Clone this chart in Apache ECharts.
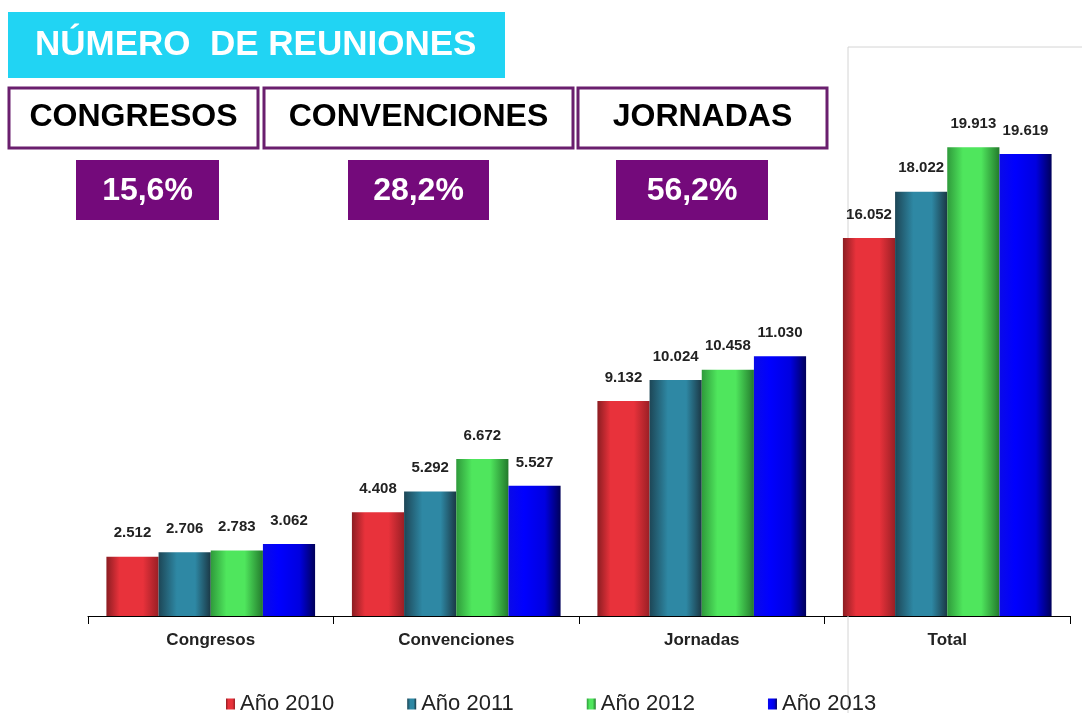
<!DOCTYPE html>
<html>
<head>
<meta charset="utf-8">
<script src="https://cdn.jsdelivr.net/npm/echarts@6/dist/echarts.min.js"></script>
<style>
  html, body { margin: 0; padding: 0; background: #fff; }
  #main { width: 1082px; height: 713px; }
</style>
</head>
<body>
<div id="main"></div>
<script>
// datos del gráfico
const categories = ['Congresos', 'Convenciones', 'Jornadas', 'Total']
const years = ['Año 2010', 'Año 2011', 'Año 2012', 'Año 2013']
const y2010 = [2512, 4408, 9132, 16052]
const y2011 = [2706, 5292, 10024, 18022]
const y2012 = [2783, 6672, 10458, 19913]
const y2013 = [3062, 5527, 11030, 19619]
const boxTitles = ['CONGRESOS', 'CONVENCIONES', 'JORNADAS']
const shares = ['15,6%', '28,2%', '56,2%']

const font = 'Liberation Sans, Arial, sans-serif'

function grad(stops) {
  return new echarts.graphic.LinearGradient(0, 0, 1, 0,
    stops.map(s => ({ offset: s[0], color: s[1] })))
}

const fills = [
  grad([[0, '#8c1d22'], [0.25, '#e8323b'], [0.7, '#e8323b'], [1, '#9a1f25']]),
  grad([[0, '#1d4656'], [0.35, '#2e88a4'], [0.7, '#2e88a4'], [1, '#1b3845']]),
  grad([[0, '#2f9a3b'], [0.3, '#4fe65d'], [0.65, '#4fe65d'], [1, '#237a2c']]),
  grad([[0, '#0a0ae8'], [0.3, '#0000ff'], [0.7, '#0000e0'], [1, '#00005a']])
]
const legendColors = ['#e8323b', '#2e88a4', '#4fe65d', '#0000ff']

function fmt(v) {
  return String(v).replace(/\B(?=(\d{3})+(?!\d))/g, '.')
}

const myChart = echarts.init(document.getElementById('main'))

// cajas superiores
const graphics = [
  { type: 'rect', shape: { x: 848, y: 47, width: 260, height: 700 },
    style: { fill: 'none', stroke: '#d4d4d4', lineWidth: 1 }, z: 1 },
  { type: 'rect', shape: { x: 8, y: 12, width: 497, height: 66 },
    style: { fill: '#21d4f3' } },
  { type: 'text', x: 35, y: 45,
    style: { text: 'NÚMERO  DE REUNIONES', fill: '#fff', font: 'bold 35px ' + font,
      verticalAlign: 'middle' } }
]
const boxX = [9, 264, 578]
const boxW = [249, 309, 249]
const shareX = [76, 348, 616]
const shareW = [143, 141, 152]
boxTitles.forEach((t, i) => {
  graphics.push({ type: 'rect', shape: { x: boxX[i], y: 88, width: boxW[i], height: 60 },
    style: { fill: '#fff', stroke: '#6a1f6e', lineWidth: 3 } })
  graphics.push({ type: 'text', x: boxX[i] + boxW[i] / 2, y: 117,
    style: { text: t, fill: '#000', font: 'bold 32px ' + font, align: 'center', verticalAlign: 'middle' } })
  graphics.push({ type: 'rect', shape: { x: shareX[i], y: 160, width: shareW[i], height: 60 },
    style: { fill: '#740a7b' } })
  graphics.push({ type: 'text', x: shareX[i] + shareW[i] / 2, y: 191,
    style: { text: shares[i], fill: '#fff', font: 'bold 32px ' + font, align: 'center', verticalAlign: 'middle' } })
})

const seriesData = [y2010, y2011, y2012, y2013]

const options = {
  animation: false,
  graphic: graphics,
  color: legendColors,
  legend: {
    bottom: -2,
    left: 226,
    padding: 0,
    itemWidth: 9,
    itemHeight: 11,
    itemGap: 73,
    icon: 'rect',
    textStyle: { fontFamily: font, fontSize: 22, color: '#222' },
    data: years
  },
  grid: { left: 88, right: 12, top: 98, bottom: 97 },
  xAxis: {
    type: 'category',
    data: categories,
    axisLine: { lineStyle: { color: '#000', width: 1 } },
    axisTick: { show: true, length: 8, lineStyle: { color: '#000' } },
    axisLabel: { fontFamily: font, fontWeight: 'bold', fontSize: 17, color: '#222', margin: 16 }
  },
  yAxis: {
    type: 'value',
    min: 0,
    max: 22000,
    show: false,
    splitLine: { show: false }
  },
  series: seriesData.map((d, i) => ({
    name: years[i],
    type: 'bar',
    data: d,
    barGap: '0%',
    barCategoryGap: '15%',
    itemStyle: { color: fills[i] },
    label: {
      show: true,
      position: 'top',
      distance: 16,
      fontFamily: font,
      fontWeight: 'bold',
      fontSize: 15,
      color: '#222',
      formatter: p => fmt(p.value)
    }
  }))
}

myChart.setOption(options)
</script>
</body>
</html>
